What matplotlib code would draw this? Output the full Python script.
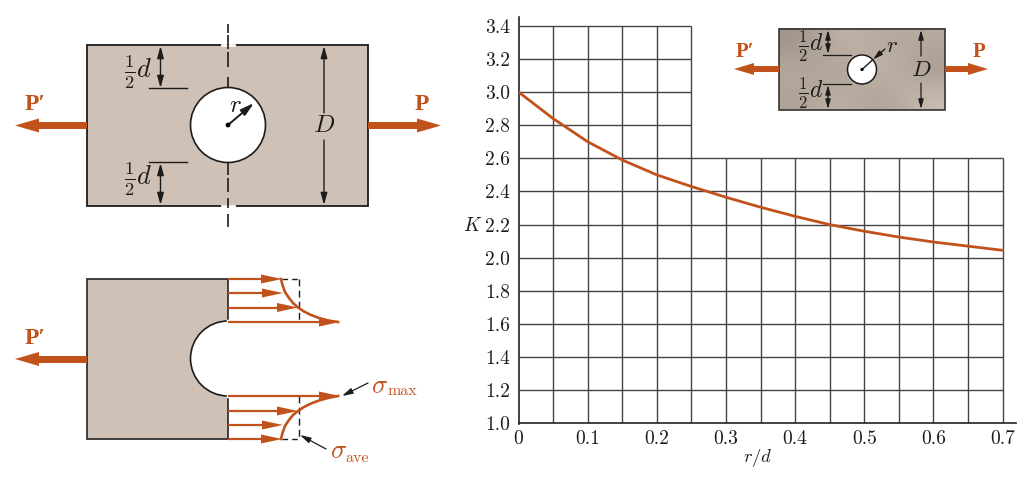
from __future__ import annotations

import matplotlib
matplotlib.use("Agg")
import matplotlib.pyplot as plt
import numpy as np
from matplotlib.patches import Circle, Polygon, Rectangle, Wedge

plt.rcParams["mathtext.fontset"] = "cm"
plt.rcParams["font.family"] = ["cmr10", "DejaVu Serif"]

W, H = 1028, 486
ORANGE = "#c2521c"
TAN = "#cfc1b5"
INK = "#1c1c1c"
HEAD = "-|>,head_width=0.22,head_length=0.8"

# K against r/d
ratio = [0, 0.05, 0.1, 0.15, 0.2, 0.25, 0.3, 0.35, 0.4, 0.45, 0.5, 0.55, 0.6, 0.65, 0.7]
k_values = [3.0, 2.84, 2.70, 2.59, 2.50, 2.43, 2.365, 2.305, 2.25, 2.20, 2.16, 2.125, 2.095, 2.07, 2.045]

x_ticks = [0, 0.1, 0.2, 0.3, 0.4, 0.5, 0.6, 0.7]
x_tick_labels = ["0", "0.1", "0.2", "0.3", "0.4", "0.5", "0.6", "0.7"]
y_ticks = [1.0, 1.2, 1.4, 1.6, 1.8, 2.0, 2.2, 2.4, 2.6, 2.8, 3.0, 3.2, 3.4]
y_tick_labels = ["1.0", "1.2", "1.4", "1.6", "1.8", "2.0", "2.2", "2.4", "2.6", "2.8", "3.0", "3.2", "3.4"]
x_grid = [0.05 * i for i in range(1, 15)]

# stress distribution sketch, pixel positions measured on the picture
stress_x = [281, 282.5, 285, 289, 293, 298, 304, 311, 319, 328, 338]
stress_top_y = [279, 285, 292, 298, 303, 307.5, 311.5, 315, 318, 320.5, 322]
stress_bottom_y = [439, 433, 426, 420, 415, 411, 407, 403.5, 400.5, 398, 396]

# centre line dashes of the upper plate, pixel y ranges
center_dashes = [(24, 33), (35, 49), (52, 67), (77, 87), (163, 175), (178, 192), (198, 208), (214, 227)]


def block_arrow(ax, x0, x1, y, shaft=7, head_w=14, head_l=24, color=ORANGE, z=4):
    """Thick arrow from x0 to x1 drawn in pixel coordinates."""
    d = 1 if x1 > x0 else -1
    ax.add_patch(Rectangle((min(x0, x1 - d * head_l), y - shaft / 2),
                           abs(x1 - d * head_l - x0), shaft, fc=color, ec="none", zorder=z))
    ax.add_patch(Polygon([(x1, y), (x1 - d * head_l, y - head_w / 2), (x1 - d * head_l, y + head_w / 2)],
                         fc=color, ec="none", zorder=z))


def line_arrow(ax, p0, p1, color=INK, lw=1.0, scale=9, style=HEAD, z=5):
    ax.annotate("", xy=p1, xytext=p0, zorder=z,
                arrowprops=dict(arrowstyle=style, color=color, lw=lw, mutation_scale=scale,
                                shrinkA=0, shrinkB=0))


def stress_arrow(ax, x_tip, y):
    ax.plot([228, x_tip - 12], [y, y], color=ORANGE, lw=1.6, zorder=4, solid_capstyle="butt")
    ax.add_patch(Polygon([(x_tip, y), (x_tip - 21, y - 4.5), (x_tip - 21, y + 4.5)],
                         fc=ORANGE, ec="none", zorder=5))


fig = plt.figure(figsize=(W / 100, H / 100), dpi=100)

# sketch layer works in pixels of the picture
sk = fig.add_axes([0, 0, 1, 1])
sk.set_xlim(0, W)
sk.set_ylim(H, 0)
sk.axis("off")

# --- upper left plate ---
sk.add_patch(Rectangle((87, 45.5), 281, 160.5, fc=TAN, ec=INK, lw=1.3, zorder=1))
sk.plot([222, 234], [45.5, 45.5], color="white", lw=2, zorder=2)
sk.plot([222, 234], [206, 206], color="white", lw=2, zorder=2)
sk.add_patch(Circle((228, 125), 37.5, fc="white", ec=INK, lw=1.2, zorder=2))
for y0, y1 in center_dashes:
    sk.plot([228, 228], [y0, y1], color=INK, lw=1.2, zorder=3, solid_capstyle="butt")
sk.plot([149, 187], [88.5, 88.5], color=INK, lw=1.0, zorder=3)
sk.plot([149, 187], [162, 162], color=INK, lw=1.0, zorder=3)
for a, b in [((160.5, 67), (160.5, 46)), ((160.5, 67), (160.5, 88)),
             ((160.5, 184), (160.5, 163)), ((160.5, 184), (160.5, 205)),
             ((324, 113), (324, 46)), ((324, 140), (324, 205))]:
    line_arrow(sk, a, b)
line_arrow(sk, (228, 125), (254, 103), lw=1.4, scale=10)
sk.add_patch(Circle((228, 125), 2.4, fc="black", ec="none", zorder=6))
sk.text(138, 72, r"$\frac{1}{2}d$", fontsize=19, ha="center", va="center", color=INK)
sk.text(138, 179, r"$\frac{1}{2}d$", fontsize=19, ha="center", va="center", color=INK)
sk.text(324, 126, r"$D$", fontsize=18, ha="center", va="center", color=INK, zorder=6)
sk.text(235, 106, r"$r$", fontsize=18, ha="center", va="center", color=INK, zorder=6)
block_arrow(sk, 87, 15, 125.5)
block_arrow(sk, 368, 441, 125.5)
sk.text(35, 104, "P′", family=["Liberation Serif"], weight="bold", fontsize=17, color=ORANGE, ha="center", va="center")
sk.text(422, 104, "P", family=["Liberation Serif"], weight="bold", fontsize=17, color=ORANGE, ha="center", va="center")

# --- lower left half plate ---
sk.add_patch(Rectangle((87, 279), 141, 160, fc=TAN, ec="#333333", lw=1.3, zorder=1))
sk.add_patch(Wedge((228, 358.5), 37.5, 90, 270, fc="white", ec=INK, lw=1.2, zorder=2))
sk.plot([228, 228], [321, 396], color="white", lw=2.5, zorder=3)
block_arrow(sk, 87, 15, 359)
sk.text(35, 338, "P′", family=["Liberation Serif"], weight="bold", fontsize=17, color=ORANGE, ha="center", va="center")

for x_tip, y in [(282, 279), (283, 293), (298, 307.5), (340, 322),
                 (340, 396), (298, 411), (283, 425), (282, 439)]:
    stress_arrow(sk, x_tip, y)
sk.plot(stress_x, stress_top_y, color=ORANGE, lw=1.9, zorder=5)
sk.plot(stress_x, stress_bottom_y, color=ORANGE, lw=1.9, zorder=5)
sk.plot([282, 298.5], [279, 279], color=INK, lw=1.0, dashes=(4, 3), zorder=3)
sk.plot([282, 298.5], [439, 439], color=INK, lw=1.0, dashes=(4, 3), zorder=3)
sk.plot([298.5, 298.5], [279, 322], color=INK, lw=1.0, dashes=(5, 3), zorder=3)
sk.plot([298.5, 298.5], [396, 439], color=INK, lw=1.0, dashes=(5, 3), zorder=3)
line_arrow(sk, (368, 383), (342, 396), lw=0.9, scale=8)
line_arrow(sk, (326, 449), (300, 435), lw=0.9, scale=8)
sk.text(371, 386, r"$\sigma$", fontsize=19, color=ORANGE, ha="left", va="center")
sk.text(388, 391, "max", fontsize=11.5, color=ORANGE, ha="left", va="center")
sk.text(330, 451, r"$\sigma$", fontsize=19, color=ORANGE, ha="left", va="center")
sk.text(345, 458, "ave", fontsize=11.5, color=ORANGE, ha="left", va="center")

# --- chart ---
x0_px, x07_px, y1_px, y3_px = 518.5, 1002.5, 423.5, 92.0
px_per_x = (x07_px - x0_px) / 0.7
px_per_y = (y1_px - y3_px) / 2.0
right_px, top_px = 1016, 17
ax = fig.add_axes([x0_px / W, 1 - y1_px / H, (right_px - x0_px) / W, (y1_px - top_px) / H])
ax.patch.set_alpha(0)
ax.set_xlim(0, (right_px - x0_px) / px_per_x)
ax.set_ylim(1.0, 1.0 + (y1_px - top_px) / px_per_y)

for v in x_grid:
    ax.vlines(v, 1.0, 3.4 if v < 0.26 else 2.6, color="#444444", lw=1.0, zorder=1)
for v in y_ticks[1:]:
    ax.hlines(v, 0, 0.7 if v < 2.65 else 0.25, color="#444444", lw=1.0, zorder=1)
ax.plot(ratio, k_values, color=ORANGE, lw=2.0, zorder=3)

for side in ("top", "right"):
    ax.spines[side].set_visible(False)
for side in ("left", "bottom"):
    ax.spines[side].set_color("#222222")
    ax.spines[side].set_linewidth(1.2)
ax.set_xticks(x_ticks, x_tick_labels)
ax.set_yticks(y_ticks, y_tick_labels)
ax.tick_params(length=0, labelsize=14, colors="#1c1c1c")
ax.tick_params(axis="x", pad=5)
ax.tick_params(axis="y", pad=6)

sk.text(473, 226, r"$K$", fontsize=14, ha="center", va="center", color=INK)
sk.text(758, 458, r"$r/d$", fontsize=13.5, ha="center", va="center", color=INK)

# --- inset plate ---
ins = fig.add_axes([0, 0, 1, 1], zorder=5)
ins.set_xlim(0, W)
ins.set_ylim(H, 0)
ins.axis("off")
shade = np.array([[0.62, 0.78, 0.70, 0.72], [0.72, 0.66, 0.80, 0.64], [0.68, 0.76, 0.66, 0.80]])
tint = np.dstack([shade * 1.0, shade * 0.93, shade * 0.87])
ins.imshow(tint, extent=(779, 945, 110, 29), interpolation="bicubic", aspect="auto", zorder=1)
ins.set_xlim(0, W)
ins.set_ylim(H, 0)
ins.add_patch(Rectangle((779, 29), 166, 81, fc="none", ec="#333333", lw=1.2, zorder=2))
ins.add_patch(Circle((862, 69.5), 14.5, fc="white", ec=INK, lw=1.1, zorder=3))
ins.plot([823, 851], [55, 55], color=INK, lw=0.9, zorder=3)
ins.plot([823, 851], [84, 84], color=INK, lw=0.9, zorder=3)
for a, b in [((828, 42), (828, 30)), ((828, 42), (828, 54)),
             ((828, 97), (828, 85)), ((828, 97), (828, 109)),
             ((921, 56), (921, 30)), ((921, 83), (921, 109))]:
    line_arrow(ins, a, b, scale=7, lw=0.9)
ins.plot([862, 873], [69.5, 59.5], color=INK, lw=1.0, zorder=5)
line_arrow(ins, (885, 49), (873, 59.5), scale=7, lw=1.0)
ins.add_patch(Circle((862, 69.5), 1.6, fc="black", ec="none", zorder=6))
ins.text(811, 46, r"$\frac{1}{2}d$", fontsize=17, ha="center", va="center", color=INK, zorder=6)
ins.text(811, 93, r"$\frac{1}{2}d$", fontsize=17, ha="center", va="center", color=INK, zorder=6)
ins.text(921, 70, r"$D$", fontsize=16.5, ha="center", va="center", color=INK, zorder=6)
ins.text(892, 46, r"$r$", fontsize=16.5, ha="center", va="center", color=INK, zorder=6)
block_arrow(ins, 779, 734, 69, shaft=5.5, head_w=12, head_l=20)
block_arrow(ins, 945, 988, 69, shaft=5.5, head_w=12, head_l=20)
ins.text(745, 52, "P′", family=["Liberation Serif"], weight="bold", fontsize=15, color=ORANGE, ha="center", va="center")
ins.text(979, 52, "P", family=["Liberation Serif"], weight="bold", fontsize=15, color=ORANGE, ha="center", va="center")

fig.savefig("out.png", dpi=100)
